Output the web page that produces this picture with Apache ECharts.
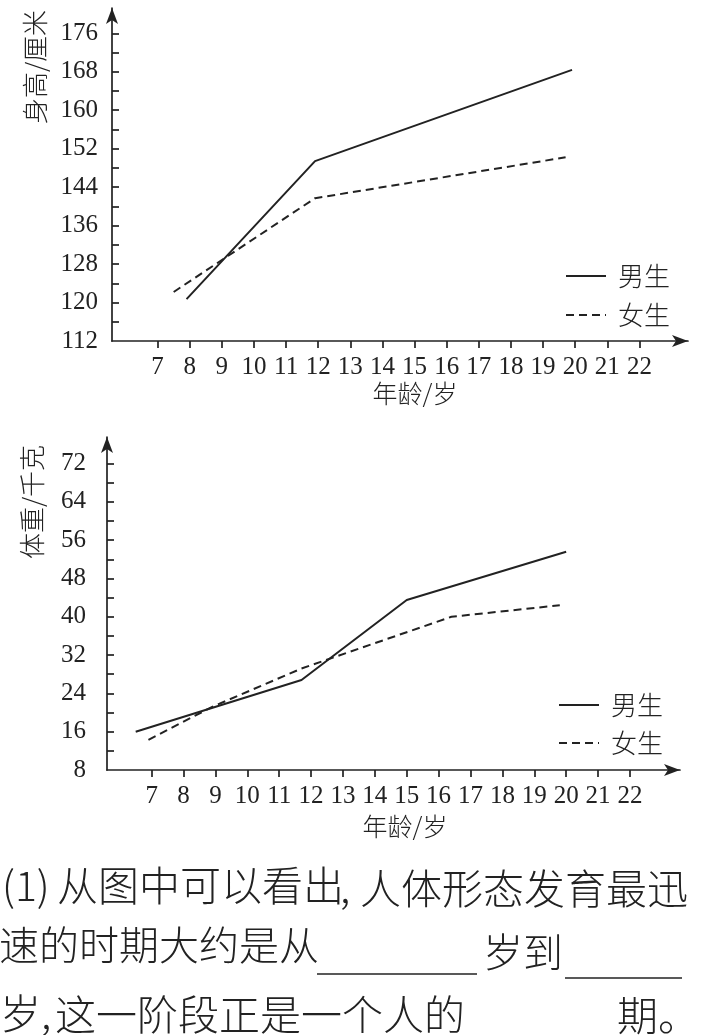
<!DOCTYPE html>
<html>
<head>
<meta charset="utf-8">
<script src="https://cdn.jsdelivr.net/npm/echarts@6/dist/echarts.min.js"></script>
<style>
html, body { margin: 0; padding: 0; background: #fff; }
#chart { width: 719px; height: 1035px; }
</style>
</head>
<body>
<div id="chart"></div>
<script>
// 身高曲线（上图）
const heightBoysAge = [7.9, 11.9, 19.9];
const heightBoys = [120.7, 149.4, 168.4];
const heightGirlsAge = [7.5, 11.9, 19.7];
const heightGirls = [122.2, 141.7, 150.2];

// 体重曲线（下图）
const weightBoysAge = [6.5, 11.7, 15.0, 20.0];
const weightBoys = [16.0, 26.8, 43.5, 53.6];
const weightGirlsAge = [6.9, 8.9, 11.7, 16.4, 19.8];
const weightGirls = [14.3, 21.2, 29.2, 40.0, 42.4];

// 刻度
const ageTicks = [7, 8, 9, 10, 11, 12, 13, 14, 15, 16, 17, 18, 19, 20, 21, 22];
const heightLabels = [112, 120, 128, 136, 144, 152, 160, 168, 176];
const heightTicks = [116, 120, 124, 128, 132, 136, 140, 144, 148, 152, 156, 160, 164, 168, 172, 176];
const weightLabels = [8, 16, 24, 32, 40, 48, 56, 64, 72];
const weightTicks = [12, 16, 20, 24, 28, 32, 36, 40, 44, 48, 52, 56, 60, 64, 68, 72];

const ink = '#222';
const serif = 'Liberation Serif';
const cjk = 'Noto Sans CJK SC';

function pairs(xs, ys) {
    return xs.map((x, i) => [x, ys[i]]);
}

function xAxisOf(grid, min, max) {
    return {
        type: 'value',
        gridIndex: grid,
        min: min,
        max: max,
        axisLine: {
            onZero: false,
            symbol: ['none', 'arrow'],
            symbolSize: [9, 16],
            lineStyle: { color: ink, width: 1.7 }
        },
        axisTick: { customValues: ageTicks, length: 7, lineStyle: { color: ink, width: 1.7 } },
        axisLabel: { customValues: ageTicks, margin: 14, fontSize: 25, fontFamily: serif, color: ink },
        splitLine: { show: false }
    };
}

function yAxisOf(grid, min, max, labels, ticks, margin) {
    return {
        type: 'value',
        gridIndex: grid,
        min: min,
        max: max,
        axisLine: {
            show: true,
            onZero: false,
            symbol: ['none', 'arrow'],
            symbolSize: [9, 16],
            lineStyle: { color: ink, width: 1.7 }
        },
        axisTick: { show: true, inside: true, customValues: ticks, length: 7, lineStyle: { color: ink, width: 1.7 } },
        axisLabel: { customValues: labels, margin: margin, fontSize: 25, fontFamily: serif, color: ink },
        splitLine: { show: false }
    };
}

function lineSeries(name, grid, data, dashed) {
    return {
        name: name,
        type: 'line',
        xAxisIndex: grid,
        yAxisIndex: grid,
        data: data,
        symbol: 'none',
        silent: true,
        lineStyle: { color: ink, width: 2, type: dashed ? [8, 5] : 'solid' },
        itemStyle: { color: ink }
    };
}

// 图例只画线，不画圆点
function legendAt(left, top, gap) {
    return {
        left: left,
        top: top,
        padding: 0,
        orient: 'vertical',
        itemWidth: 40,
        itemHeight: 14,
        itemGap: gap,
        selectedMode: false,
        data: ['男生', '女生'],
        itemStyle: { opacity: 0 },
        textStyle: { fontSize: 26, fontFamily: cjk, fontWeight: 300, color: ink, padding: [0, 0, 0, 7] }
    };
}

function label(text, x, y, size, extra) {
    return Object.assign({
        type: 'text',
        x: x,
        y: y,
        silent: true,
        style: {
            text: text,
            fontSize: size,
            fontFamily: cjk,
            fontWeight: 300,
            fill: ink,
            align: 'left',
            verticalAlign: 'middle'
        }
    }, extra || {});
}

function centered(text, x, y, size, rotation) {
    return {
        type: 'text',
        x: x,
        y: y,
        rotation: rotation || 0,
        silent: true,
        style: {
            text: text,
            fontSize: size,
            fontFamily: cjk,
            fontWeight: 300,
            fill: ink,
            align: 'center',
            verticalAlign: 'middle'
        }
    };
}

function rule(x1, x2, y) {
    return {
        type: 'line',
        silent: true,
        shape: { x1: x1, y1: y, x2: x2, y2: y },
        style: { stroke: ink, lineWidth: 1.5 }
    };
}

const chart = echarts.init(document.getElementById('chart'));

chart.setOption({
    backgroundColor: '#fff',
    animation: false,
    grid: [
        { left: 112, top: 8, width: 576, height: 333 },
        { left: 107, top: 437, width: 573, height: 333 }
    ],
    xAxis: [xAxisOf(0, 5.58, 23.51), xAxisOf(1, 5.6, 23.57)],
    yAxis: [
        yAxisOf(0, 112, 181.26, heightLabels, heightTicks, 14),
        yAxisOf(1, 8, 77.55, weightLabels, weightTicks, 21)
    ],
    legend: [legendAt(565, 263, 13), legendAt(558, 692, 12)],
    series: [
        lineSeries('男生', 0, pairs(heightBoysAge, heightBoys), false),
        lineSeries('女生', 0, pairs(heightGirlsAge, heightGirls), true),
        lineSeries('男生', 1, pairs(weightBoysAge, weightBoys), false),
        lineSeries('女生', 1, pairs(weightGirlsAge, weightGirls), true)
    ],
    graphic: [
        // 坐标轴名称
        centered('身高/厘米', 35, 67, 26, Math.PI / 2),
        centered('体重/千克', 32, 502, 26, Math.PI / 2),
        centered('年龄/岁', 415, 393, 25),
        centered('年龄/岁', 405, 826, 25),

        // 题目文字
        label('(1)', 2, 885, 41),
        label('从图中可以看出', 57, 885, 41),
        label(',', 340, 887, 41),
        label('人体形态发育最迅', 360, 888, 41),
        label('速的时期大约是从', -1, 945, 40),
        rule(317, 477, 974),
        label('岁到', 483, 952, 40),
        rule(565, 682, 978),
        label('岁,', 0, 1013, 41),
        label('这一阶段正是一个人的', 55, 1014, 41),
        label('期。', 617, 1015, 41)
    ]
});
</script>
</body>
</html>
